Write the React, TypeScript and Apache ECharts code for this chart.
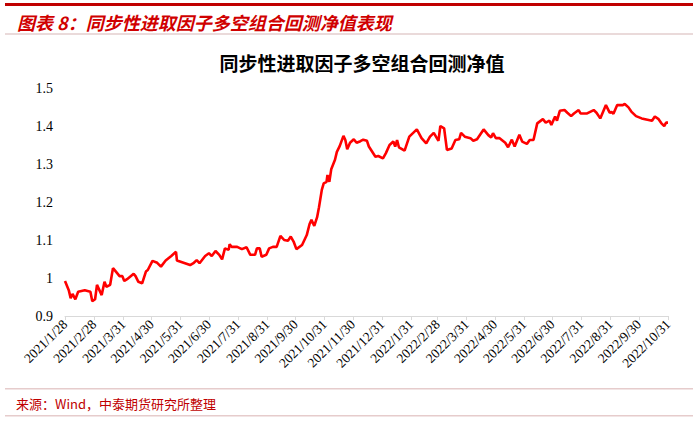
import React, { useEffect, useRef } from "react";
import * as echarts from "echarts";

const chartTitle = "同步性进取因子多空组合回测净值";
const headerText = "图表 8：同步性进取因子多空组合回测净值表现";
const sourceText = "来源：Wind，中泰期货研究所整理";

const startDate = "2021/1/28";
const endDate = "2022/10/31";

const tickLabels = [
  "2021/1/28", "2021/2/28", "2021/3/31", "2021/4/30", "2021/5/31", "2021/6/30",
  "2021/7/31", "2021/8/31", "2021/9/30", "2021/10/31", "2021/11/30", "2021/12/31",
  "2022/1/31", "2022/2/28", "2022/3/31", "2022/4/30", "2022/5/31", "2022/6/30",
  "2022/7/31", "2022/8/31", "2022/9/30", "2022/10/31",
];

const dates = [
  "2021/1/28", "2021/2/1", "2021/2/3", "2021/2/5", "2021/2/8", "2021/2/11", "2021/2/18", "2021/2/24", "2021/2/26",
  "2021/3/1", "2021/3/3", "2021/3/8", "2021/3/11", "2021/3/13", "2021/3/17", "2021/3/20", "2021/3/24", "2021/3/27", "2021/3/30",
  "2021/4/1", "2021/4/4", "2021/4/11", "2021/4/13", "2021/4/16", "2021/4/20", "2021/4/24", "2021/4/26",
  "2021/5/1", "2021/5/6", "2021/5/10", "2021/5/15", "2021/5/21", "2021/5/26", "2021/5/27",
  "2021/6/3", "2021/6/10", "2021/6/14", "2021/6/17", "2021/6/20", "2021/6/26", "2021/6/30",
  "2021/7/3", "2021/7/7", "2021/7/11", "2021/7/14", "2021/7/17", "2021/7/21", "2021/7/22", "2021/7/24", "2021/7/30",
  "2021/8/4", "2021/8/9", "2021/8/13", "2021/8/18", "2021/8/20", "2021/8/23", "2021/8/25", "2021/8/30",
  "2021/9/2", "2021/9/6", "2021/9/10", "2021/9/14", "2021/9/18", "2021/9/22", "2021/9/25", "2021/9/28",
  "2021/10/1", "2021/10/7", "2021/10/12", "2021/10/15", "2021/10/17", "2021/10/20", "2021/10/23", "2021/10/25", "2021/10/28", "2021/10/30",
  "2021/11/2", "2021/11/3", "2021/11/5", "2021/11/7", "2021/11/11", "2021/11/13", "2021/11/16", "2021/11/20", "2021/11/22", "2021/11/24", "2021/11/27",
  "2021/12/1", "2021/12/4", "2021/12/8", "2021/12/11", "2021/12/15", "2021/12/17", "2021/12/24", "2021/12/27",
  "2022/1/1", "2022/1/4", "2022/1/8", "2022/1/12", "2022/1/14", "2022/1/16", "2022/1/18", "2022/1/24", "2022/1/29",
  "2022/2/6", "2022/2/11", "2022/2/16", "2022/2/20", "2022/2/24",
  "2022/3/1", "2022/3/3", "2022/3/7", "2022/3/10", "2022/3/15", "2022/3/19", "2022/3/23", "2022/3/25", "2022/3/29",
  "2022/4/4", "2022/4/7", "2022/4/11", "2022/4/18", "2022/4/23", "2022/4/26", "2022/4/28",
  "2022/5/1", "2022/5/5", "2022/5/11", "2022/5/14", "2022/5/18", "2022/5/21", "2022/5/26", "2022/5/29",
  "2022/6/3", "2022/6/6", "2022/6/10", "2022/6/14", "2022/6/20", "2022/6/23", "2022/6/27", "2022/6/29",
  "2022/7/3", "2022/7/5", "2022/7/8", "2022/7/13", "2022/7/16", "2022/7/20", "2022/7/23", "2022/7/28", "2022/7/30",
  "2022/8/6", "2022/8/13", "2022/8/16", "2022/8/20", "2022/8/26", "2022/8/30",
  "2022/9/1", "2022/9/3", "2022/9/7", "2022/9/13", "2022/9/15", "2022/9/19", "2022/9/22", "2022/9/27",
  "2022/10/3", "2022/10/14", "2022/10/17", "2022/10/21", "2022/10/24", "2022/10/27", "2022/10/29", "2022/10/31",
];

const netValues = [
  0.992, 0.968, 0.947, 0.958, 0.944, 0.964, 0.968, 0.964, 0.939,
  0.944, 0.982, 0.955, 0.990, 0.977, 0.982, 1.026, 1.014, 1.005, 1.005,
  0.992, 0.997, 1.011, 1.005, 0.990, 0.986, 1.017, 1.021,
  1.045, 1.040, 1.030, 1.046, 1.058, 1.069, 1.046,
  1.040, 1.034, 1.040, 1.047, 1.039, 1.058, 1.065,
  1.058, 1.071, 1.061, 1.049, 1.078, 1.074, 1.089, 1.082, 1.082,
  1.076, 1.081, 1.061, 1.061, 1.078, 1.078, 1.056, 1.061,
  1.078, 1.082, 1.082, 1.111, 1.100, 1.098, 1.109, 1.096,
  1.076, 1.087, 1.113, 1.142, 1.153, 1.137, 1.160, 1.186, 1.232, 1.249,
  1.253, 1.271, 1.253, 1.286, 1.311, 1.332, 1.347, 1.374, 1.363, 1.339, 1.356,
  1.365, 1.356, 1.360, 1.364, 1.361, 1.346, 1.319, 1.321,
  1.315, 1.328, 1.350, 1.359, 1.346, 1.363, 1.344, 1.335, 1.372,
  1.391, 1.368, 1.354, 1.372, 1.382,
  1.361, 1.400, 1.394, 1.337, 1.341, 1.363, 1.365, 1.382, 1.372,
  1.368, 1.361, 1.365, 1.391, 1.376, 1.370, 1.381,
  1.368, 1.368, 1.356, 1.344, 1.364, 1.346, 1.377, 1.359,
  1.353, 1.363, 1.363, 1.407, 1.418, 1.409, 1.414, 1.403,
  1.425, 1.414, 1.440, 1.442, 1.435, 1.426, 1.433, 1.442, 1.433,
  1.433, 1.442, 1.435, 1.420, 1.455, 1.435,
  1.437, 1.432, 1.455, 1.455, 1.458, 1.449, 1.438, 1.426,
  1.420, 1.414, 1.425, 1.418, 1.407, 1.400, 1.409, 1.409,
];

function fmt(d: Date): string {
  return `${d.getUTCFullYear()}/${d.getUTCMonth() + 1}/${d.getUTCDate()}`;
}

function buildDays(): string[] {
  const [sy, sm, sd] = startDate.split("/").map(Number);
  const [ey, em, ed] = endDate.split("/").map(Number);
  const out: string[] = [];
  let t = Date.UTC(sy, sm - 1, sd);
  const end = Date.UTC(ey, em - 1, ed);
  while (t <= end) {
    out.push(fmt(new Date(t)));
    t += 86400000;
  }
  return out;
}

export default function App() {
  const ref = useRef<HTMLDivElement>(null);
  useEffect(() => {
    if (!ref.current) return;
    const chart = echarts.init(ref.current, null, { renderer: "svg" });
    const days = buildDays();
    const labelSet = new Set(tickLabels);
    const showFn = (_i: number, v: string) => labelSet.has(v);
    const serif = "'Liberation Serif', 'Times New Roman', serif";
    chart.setOption({
      animation: false,
      backgroundColor: "#ffffff",
      title: {
        text: chartTitle,
        left: 357,
        textAlign: "center",
        top: 48,
        textStyle: { fontSize: 19, fontWeight: "bold", color: "#000", fontFamily: "'Noto Sans CJK SC', sans-serif" },
      },
      grid: { left: 65, right: 32, top: 88, bottom: 105, containLabel: false },
      xAxis: {
        type: "category",
        data: days,
        boundaryGap: false,
        axisLine: { show: true, lineStyle: { color: "#d9d9d9", width: 1 } },
        axisTick: { show: true, interval: showFn, length: 4, lineStyle: { color: "#d9d9d9" } },
        axisLabel: {
          interval: showFn,
          rotate: 45,
          margin: 6,
          fontSize: 13.5,
          color: "#000",
          fontFamily: serif,
        },
        splitLine: { show: false },
      },
      yAxis: {
        type: "value",
        min: 0.9,
        max: 1.5,
        interval: 0.1,
        axisLine: { show: false },
        axisTick: { show: false },
        splitLine: { show: false },
        axisLabel: {
          margin: 12,
          fontSize: 14,
          color: "#000",
          fontFamily: serif,
          formatter: (v: number) => String(Number(v.toFixed(1))),
        },
      },
      series: [
        {
          type: "line",
          data: dates.map((d, i) => [d, netValues[i]]),
          showSymbol: false,
          symbol: "none",
          lineStyle: { color: "#ff0000", width: 2.6 },
          itemStyle: { color: "#ff0000" },
        },
      ],
      graphic: [
        { type: "rect", shape: { x: 5, y: 3, width: 688, height: 3 }, style: { fill: "#c00000" } },
        {
          type: "text",
          x: 17,
          y: 22,
          style: {
            text: headerText,
            fontSize: 18,
            fontStyle: "italic",
            fontWeight: "bold",
            fill: "#d00000",
            fontFamily: "'Noto Sans CJK SC', sans-serif",
            verticalAlign: "middle",
          },
        },
        { type: "rect", shape: { x: 5, y: 33, width: 688, height: 2 }, style: { fill: "#eadada" } },
        { type: "rect", shape: { x: 5, y: 388, width: 688, height: 1.5 }, style: { fill: "#e6cccc" } },
        {
          type: "text",
          x: 16,
          y: 403,
          style: {
            text: sourceText,
            fontSize: 13,
            fill: "#c00000",
            fontFamily: "'Noto Sans CJK SC', sans-serif",
            verticalAlign: "middle",
          },
        },
        { type: "rect", shape: { x: 5, y: 415, width: 688, height: 1.5 }, style: { fill: "#e6cccc" } },
      ],
    });
    return () => chart.dispose();
  }, []);
  return (
    <div
      ref={ref}
      style={{ position: "fixed", left: 0, top: 0, width: 700, height: 421, background: "#fff" }}
    />
  );
}
